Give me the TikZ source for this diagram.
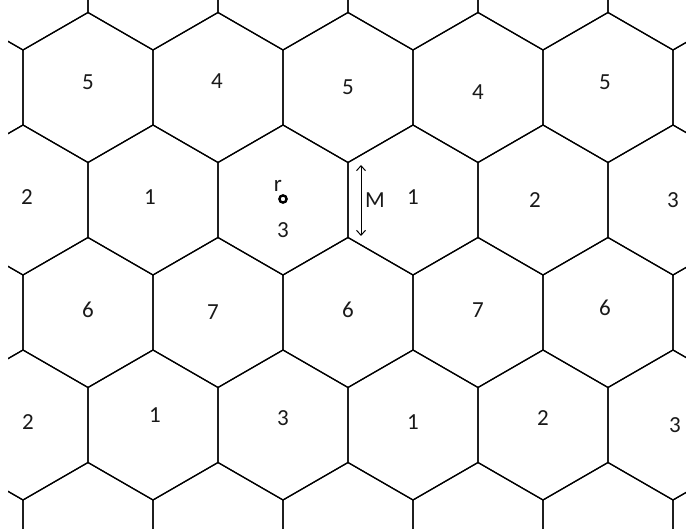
\documentclass[tikz,border=0pt]{standalone}
\usepackage{fontspec}
\setmainfont{Carlito}
\usepackage{tikz}
\usetikzlibrary{arrows.meta,positioning}
\tikzset{
	hexline/.style={draw=black, line width=0.6pt},
	cellnum/.style={font=\fontsize{11.5}{13}\selectfont, text=black!90, inner sep=1pt},
	rmark/.style={circle, draw=black, line width=1.2pt, inner sep=0pt, minimum size=3.6pt},
	marrow/.style={{Straight Barb[length=2.5pt,width=4.5pt]}-{Straight Barb[length=2.5pt,width=4.5pt]}, line width=0.5pt}
}

\begin{document}
\begin{tikzpicture}[x=0.5pt, y=-0.5pt]
	\useasboundingbox (0,0) rectangle (686,529);
	% hexagon grid, clipped to the page
	\begin{scope}
		\clip (8,0) rectangle (686,529);
		\foreach \r in {0,...,5}{
			\foreach \k in {-1,...,5}{
				\pgfmathsetmacro\cx{23+65*mod(\r,2)+130*\k}
				\pgfmathsetmacro\cy{-25+112.5*\r}
				\draw[hexline] (\cx,\cy) +(0,-75) -- +(65,-37.5) -- +(65,37.5)
					-- +(0,75) -- +(-65,37.5) -- +(-65,-37.5) -- cycle;
			}
		}
	\end{scope}
	% row 1
	\node[cellnum] (a1) at (88,82) {5};
	\node[cellnum] (a2) at (217,81) {4};
	\node[cellnum] (a3) at (348,87) {5};
	\node[cellnum] (a4) at (478,92) {4};
	\node[cellnum] (a5) at (605,82) {5};
	% row 2
	\node[cellnum] (b0) at (27,197) {2};
	\node[cellnum] (b1) at (150,197) {1};
	\node[cellnum] (b2) at (283,230) {3};
	\node[cellnum] (b3) at (413,197) {1};
	\node[cellnum] (b4) at (535,200) {2};
	\node[cellnum] (b5) at (673,200) {3};
	% row 3
	\node[cellnum] (c1) at (88,310) {6};
	\node[cellnum] (c2) at (213,312) {7};
	\node[cellnum] (c3) at (348,310) {6};
	\node[cellnum] (c4) at (478,310) {7};
	\node[cellnum] (c5) at (605,308) {6};
	% row 4
	\node[cellnum] (d0) at (28,422) {2};
	\node[cellnum] (d1) at (155,415) {1};
	\node[cellnum] (d2) at (283,418) {3};
	\node[cellnum] (d3) at (413,422) {1};
	\node[cellnum] (d4) at (543,418) {2};
	\node[cellnum] (d5) at (675,425) {3};
	% point r and distance M
	\node[rmark] (r0) at (283,199) {};
	\node[cellnum] (rlbl) at (278,186) {r};
	\coordinate (mtop) at (361,165);
	\coordinate (mbot) at (361,236);
	\draw[marrow] (mtop) -- (mbot);
	\node[cellnum] (mlbl) at (375,200) {M};
\end{tikzpicture}
\end{document}
